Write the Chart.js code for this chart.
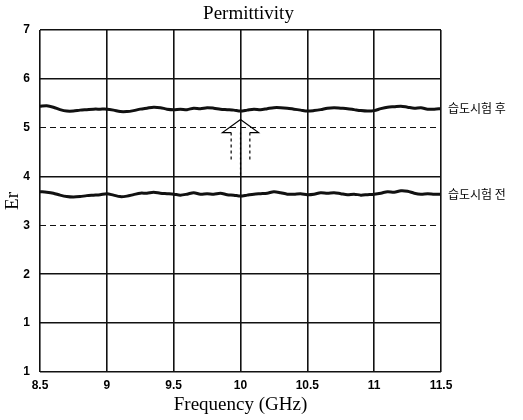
<!DOCTYPE html>
<html>
<head>
<meta charset="utf-8">
<title>Permittivity</title>
<script src="https://cdn.jsdelivr.net/npm/chart.js@4/dist/chart.umd.min.js"></script>
<style>
  body { margin: 0; background: #fff; }
  canvas { display: block; }
</style>
</head>
<body>
<canvas id="chart" width="523" height="420"></canvas>
<script>
// frequency samples (GHz)
const freqs = [
  8.50, 8.55, 8.60, 8.65, 8.70, 8.75, 8.80, 8.85, 8.90, 8.95,
  9.00, 9.05, 9.10, 9.15, 9.20, 9.25, 9.30, 9.35, 9.40, 9.45,
  9.50, 9.55, 9.60, 9.65, 9.70, 9.75, 9.80, 9.85, 9.90, 9.95,
  10.00, 10.05, 10.10, 10.15, 10.20, 10.25, 10.30, 10.35, 10.40, 10.45,
  10.50, 10.55, 10.60, 10.65, 10.70, 10.75, 10.80, 10.85, 10.90, 10.95,
  11.00, 11.05, 11.10, 11.15, 11.20, 11.25, 11.30, 11.35, 11.40, 11.45,
  11.50
];

// after humidity test
const erAfter = [
  5.44, 5.45, 5.42, 5.37, 5.34, 5.34, 5.36, 5.37, 5.38, 5.38,
  5.38, 5.36, 5.33, 5.33, 5.35, 5.38, 5.40, 5.42, 5.41, 5.38,
  5.37, 5.38, 5.37, 5.40, 5.39, 5.41, 5.40, 5.38, 5.37, 5.36,
  5.34, 5.36, 5.38, 5.37, 5.39, 5.41, 5.41, 5.40, 5.38, 5.36,
  5.34, 5.35, 5.37, 5.40, 5.41, 5.40, 5.39, 5.37, 5.35, 5.34,
  5.35, 5.39, 5.42, 5.43, 5.44, 5.42, 5.40, 5.41, 5.38, 5.38,
  5.39
];

// before humidity test
const erBefore = [
  3.69, 3.68, 3.66, 3.62, 3.59, 3.58, 3.59, 3.61, 3.62, 3.63,
  3.65, 3.62, 3.59, 3.60, 3.63, 3.66, 3.66, 3.68, 3.66, 3.65,
  3.64, 3.62, 3.64, 3.67, 3.64, 3.65, 3.64, 3.66, 3.63, 3.62,
  3.60, 3.62, 3.64, 3.65, 3.66, 3.69, 3.67, 3.64, 3.64, 3.65,
  3.63, 3.64, 3.67, 3.66, 3.67, 3.65, 3.63, 3.64, 3.62, 3.63,
  3.64, 3.66, 3.69, 3.68, 3.71, 3.70, 3.66, 3.64, 3.65, 3.64,
  3.64
];

const seriesLabels = ['습도시험 후', '습도시험 전'];
// y tick labels as printed (bottom one reads "1" in the original)
const yTickLabels = ['1', '1', '2', '3', '4', '5', '6', '7'];
const dashedY = [3, 5];

const serif = '"Liberation Serif", "DejaVu Serif", serif';
const sans = '"Liberation Sans", Arial, sans-serif';

// title, series labels and the arrow
const decorations = {
  id: 'decorations',
  afterDatasetsDraw(chart) {
    const { ctx, chartArea, scales } = chart;
    const x = scales.x, y = scales.y;
    ctx.save();

    ctx.fillStyle = '#000';
    ctx.font = '19px ' + serif;
    ctx.textAlign = 'center';
    ctx.textBaseline = 'middle';
    ctx.fillText('Permittivity', (chartArea.left + chartArea.right) / 2 + 8, 14);

    ctx.font = '12px "Noto Sans CJK KR", sans-serif';
    ctx.textAlign = 'left';
    chart.data.datasets.forEach(ds => {
      const last = ds.data[ds.data.length - 1];
      ctx.fillText(ds.label, chartArea.right + 7, y.getPixelForValue(last.y));
    });

    // hollow arrow pointing up at 10 GHz
    const cx = x.getPixelForValue(10);
    const tip = y.getPixelForValue(5.17);
    const base = y.getPixelForValue(4.9);
    const hw = x.getPixelForValue(10.135) - cx;
    const sw = x.getPixelForValue(10.07) - cx;
    const shaftEnd = y.getPixelForValue(4.33);
    ctx.strokeStyle = '#000';
    ctx.lineWidth = 1.2;
    ctx.setLineDash([]);
    ctx.beginPath();
    ctx.moveTo(cx - sw, base);
    ctx.lineTo(cx - hw, base);
    ctx.lineTo(cx, tip);
    ctx.lineTo(cx + hw, base);
    ctx.lineTo(cx + sw, base);
    ctx.stroke();
    ctx.setLineDash([3, 3]);
    ctx.beginPath();
    ctx.moveTo(cx - sw, base);
    ctx.lineTo(cx - sw, shaftEnd);
    ctx.moveTo(cx + sw, base);
    ctx.lineTo(cx + sw, shaftEnd);
    ctx.stroke();
    ctx.setLineDash([2, 3]);
    ctx.beginPath();
    ctx.moveTo(cx, base);
    ctx.lineTo(cx, y.getPixelForValue(4));
    ctx.stroke();

    ctx.restore();
  }
};

new Chart(document.getElementById('chart'), {
  type: 'line',
  data: {
    datasets: [
      {
        label: seriesLabels[0],
        data: freqs.map((f, i) => ({ x: f, y: erAfter[i] })),
        borderColor: '#111',
        borderWidth: 3,
        pointRadius: 0,
        tension: 0.3
      },
      {
        label: seriesLabels[1],
        data: freqs.map((f, i) => ({ x: f, y: erBefore[i] })),
        borderColor: '#111',
        borderWidth: 3,
        pointRadius: 0,
        tension: 0.3
      }
    ]
  },
  options: {
    responsive: false,
    animation: false,
    layout: { padding: { top: 30, right: 82, left: 0, bottom: 0 } },
    plugins: {
      legend: { display: false },
      tooltip: { enabled: false }
    },
    scales: {
      x: {
        type: 'linear',
        min: 8.5,
        max: 11.5,
        afterFit(scale) { scale.height = 48; },
        ticks: {
          stepSize: 0.5,
          padding: 6,
          color: '#000',
          maxRotation: 0,
          font: { family: sans, size: 12, weight: 'bold' },
          callback: v => String(v)
        },
        grid: { color: '#111', lineWidth: 1.6, drawTicks: false },
        border: { display: false },
        title: {
          display: true,
          text: 'Frequency (GHz)',
          color: '#000',
          padding: { top: 0, bottom: 4 },
          font: { family: serif, size: 19 }
        }
      },
      y: {
        min: 0,
        max: 7,
        afterFit(scale) { scale.width = 40; },
        ticks: {
          stepSize: 1,
          padding: 10,
          color: '#000',
          font: { family: sans, size: 12, weight: 'bold' },
          callback: v => yTickLabels[v]
        },
        grid: {
          color: '#111',
          drawTicks: false,
          lineWidth: c => dashedY.includes(c.tick && c.tick.value) ? 1 : 1.6
        },
        border: {
          display: false,
          dash: c => dashedY.includes(c.tick && c.tick.value) ? [6, 4] : []
        },
        title: {
          display: true,
          text: 'Er',
          color: '#000',
          padding: { top: 2, bottom: 4 },
          font: { family: serif, size: 19 }
        }
      }
    }
  },
  plugins: [decorations]
});
</script>
</body>
</html>
